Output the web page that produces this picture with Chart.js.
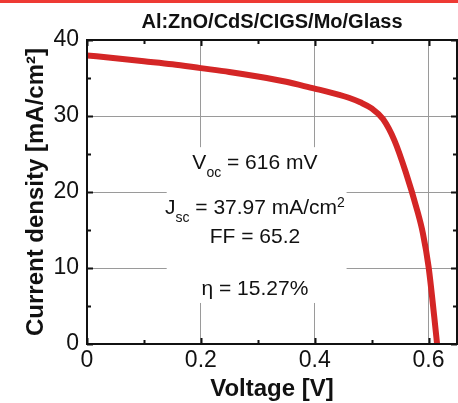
<!DOCTYPE html>
<html>
<head>
<meta charset="utf-8">
<script src="https://cdn.jsdelivr.net/npm/chart.js@4.4.1/dist/chart.umd.min.js"></script>
<style>
    html, body { margin: 0; padding: 0; background: #fff; }
    #wrap { position: relative; width: 458px; height: 403px; }
</style>
</head>
<body>
<div id="wrap"><canvas id="jvChart"></canvas></div>
<script>
// J-V curve
const voltage = [0, 0.05, 0.1, 0.15, 0.2, 0.25, 0.3, 0.35, 0.4, 0.42, 0.44, 0.46, 0.48, 0.5, 0.52, 0.54, 0.56, 0.58, 0.59, 0.6, 0.61, 0.615];
const current = [37.97, 37.6, 37.2, 36.8, 36.3, 35.8, 35.2, 34.5, 33.6, 33.25, 32.85, 32.4, 31.8, 31.0, 29.6, 26.8, 22.6, 17.6, 14.6, 10.2, 3.6, 0];

const xMajorLabels = ['0', '0.2', '0.4', '0.6'];
const yMajorLabels = ['0', '10', '20', '30', '40'];

const titleText = 'Al:ZnO/CdS/CIGS/Mo/Glass';
const xTitle = 'Voltage [V]';
const yTitle = 'Current density [mA/cm\u00B2]';

// cell parameters written inside the plot
const paramLines = [
    [['V', 'n'], ['oc', 'sub'], [' = 616 mV', 'n']],
    [['J', 'n'], ['sc', 'sub'], [' = 37.97 mA/cm', 'n'], ['2', 'sup']],
    [['FF = 65.2', 'n']],
    [['\u03B7 = 15.27%', 'n']],
];
const paramRows = [23.0, 17.1, 13.3, 6.4];   // baseline, in mA/cm2
const paramCenter = 0.295;                    // in V

const FONT = "'Liberation Sans', Arial, sans-serif";

const isMajorX = v => Math.round(v * 10) % 2 === 0;
const isMajorY = v => Math.round(v) % 10 === 0;

const framePlugin = {
    id: 'frame',
    beforeDraw(chart) {
        const ctx = chart.ctx;
        ctx.save();
        ctx.fillStyle = '#ee3a34';
        ctx.fillRect(0, 0, chart.width, 3);
        ctx.restore();
    },
    beforeDatasetsDraw(chart) {
        // white box behind the parameters, it cuts the grid lines
        const x = chart.scales.x, y = chart.scales.y, ctx = chart.ctx;
        const l = x.getPixelForValue(0.14), r = x.getPixelForValue(0.456);
        const t = y.getPixelForValue(25.9), b = y.getPixelForValue(5.4);
        ctx.save();
        ctx.fillStyle = '#fff';
        ctx.fillRect(l, t, r - l, b - t);
        ctx.restore();
    },
    afterDatasetsDraw(chart) {
        const ctx = chart.ctx;
        const a = chart.chartArea;
        const xs = chart.scales.x, ys = chart.scales.y;
        ctx.save();
        ctx.strokeStyle = '#111';
        ctx.lineWidth = 2;
        ctx.strokeRect(a.left, a.top, a.right - a.left, a.bottom - a.top);

        // inward ticks on all four sides
        ctx.beginPath();
        xs.ticks.forEach(t => {
            const px = Math.round(xs.getPixelForValue(t.value)) + 0.5;
            const len = isMajorX(t.value) ? 6 : 4;
            ctx.moveTo(px, a.bottom); ctx.lineTo(px, a.bottom - len);
            ctx.moveTo(px, a.top); ctx.lineTo(px, a.top + len);
        });
        ys.ticks.forEach(t => {
            const py = Math.round(ys.getPixelForValue(t.value)) + 0.5;
            const len = isMajorY(t.value) ? 6 : 4;
            ctx.moveTo(a.left, py); ctx.lineTo(a.left + len, py);
            ctx.moveTo(a.right, py); ctx.lineTo(a.right - len, py);
        });
        ctx.stroke();

        // parameters
        ctx.fillStyle = '#111';
        ctx.textBaseline = 'alphabetic';
        ctx.textAlign = 'left';
        const cx = xs.getPixelForValue(paramCenter);
        paramLines.forEach((parts, i) => {
            const base = ys.getPixelForValue(paramRows[i]);
            let w = 0;
            parts.forEach(p => {
                ctx.font = (p[1] === 'n' ? '21px ' : '14px ') + FONT;
                w += ctx.measureText(p[0]).width;
            });
            let px = cx - w / 2;
            parts.forEach(p => {
                ctx.font = (p[1] === 'n' ? '21px ' : '14px ') + FONT;
                const dy = p[1] === 'sub' ? 8 : (p[1] === 'sup' ? -7 : 0);
                ctx.fillText(p[0], px, base + dy);
                px += ctx.measureText(p[0]).width;
            });
        });
        ctx.restore();
    }
};

new Chart(document.getElementById('jvChart'), {
    type: 'line',
    data: {
        datasets: [{
            label: 'J-V',
            data: voltage.map((v, i) => ({ x: v, y: current[i] })),
            borderColor: '#d42626',
            borderWidth: 6,
            pointRadius: 0,
            cubicInterpolationMode: 'monotone',
            fill: false,
        }]
    },
    options: {
        responsive: true,
        maintainAspectRatio: false,
        animation: false,
        layout: { padding: { left: 0, right: 1, top: 0, bottom: 0 } },
        plugins: {
            legend: { display: false },
            tooltip: { enabled: false },
            title: {
                display: true,
                text: titleText,
                fullSize: false,
                color: '#111',
                font: { family: FONT, size: 20, weight: 'bold' },
                padding: { top: 10, bottom: 6 }
            }
        },
        scales: {
            x: {
                type: 'linear',
                min: 0,
                max: 0.65,
                afterFit: s => { s.height = 59; },
                border: { display: false },
                grid: {
                    drawTicks: false,
                    lineWidth: 1,
                    color: c => (c.tick && c.tick.value > 0 && isMajorX(c.tick.value)) ? '#9a9a9a' : 'rgba(0,0,0,0)'
                },
                ticks: {
                    stepSize: 0.1,
                    includeBounds: false,
                    autoSkip: false,
                    maxRotation: 0,
                    padding: 3,
                    color: '#111',
                    font: { family: FONT, size: 23 },
                    callback: v => isMajorX(v) ? xMajorLabels[Math.round(v * 5)] : ''
                },
                title: {
                    display: true,
                    text: xTitle,
                    color: '#111',
                    font: { family: FONT, size: 24, weight: 'bold', lineHeight: 1.1 },
                    padding: { top: 0, bottom: 0 }
                }
            },
            y: {
                type: 'linear',
                min: 0,
                max: 40,
                afterFit: s => { s.width = 87; },
                border: { display: false },
                grid: {
                    drawTicks: false,
                    lineWidth: 1,
                    color: c => (c.tick && c.tick.value > 0 && c.tick.value < 40 && isMajorY(c.tick.value)) ? '#9a9a9a' : 'rgba(0,0,0,0)'
                },
                ticks: {
                    stepSize: 5,
                    autoSkip: false,
                    padding: 8,
                    color: '#111',
                    font: { family: FONT, size: 23 },
                    callback: v => isMajorY(v) ? yMajorLabels[Math.round(v / 10)] : ''
                },
                title: {
                    display: true,
                    text: yTitle,
                    color: '#111',
                    font: { family: FONT, size: 24, weight: 'bold' },
                    padding: { top: 22, bottom: 0 }
                }
            }
        }
    },
    plugins: [framePlugin]
});
</script>
</body>
</html>
